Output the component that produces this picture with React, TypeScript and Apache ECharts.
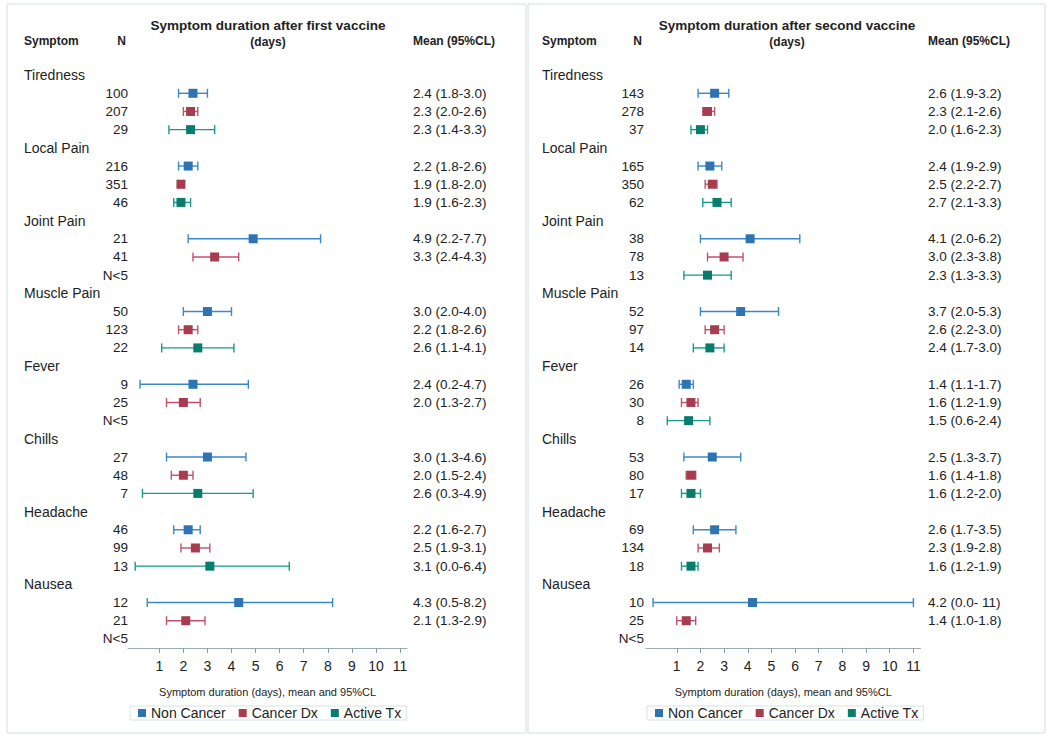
import React, { useEffect, useRef } from 'react';
import * as echarts from 'echarts';

const symptoms = ['Tiredness', 'Local Pain', 'Joint Pain', 'Muscle Pain', 'Fever', 'Chills', 'Headache', 'Nausea'];
const cohorts = ['Non Cancer', 'Cancer Dx', 'Active Tx'];
const panelTitles = ['Symptom duration after first vaccine', 'Symptom duration after second vaccine'];
const xTicks = [1, 2, 3, 4, 5, 6, 7, 8, 9, 10, 11];

// First vaccine
const firstNonCancerN = [100, 216, 21, 50, 9, 27, 46, 12];
const firstNonCancerMean = [2.4, 2.2, 4.9, 3.0, 2.4, 3.0, 2.2, 4.3];
const firstNonCancerLow = [1.8, 1.8, 2.2, 2.0, 0.2, 1.3, 1.6, 0.5];
const firstNonCancerHigh = [3.0, 2.6, 7.7, 4.0, 4.7, 4.6, 2.7, 8.2];

const firstCancerDxN = [207, 351, 41, 123, 25, 48, 99, 21];
const firstCancerDxMean = [2.3, 1.9, 3.3, 2.2, 2.0, 2.0, 2.5, 2.1];
const firstCancerDxLow = [2.0, 1.8, 2.4, 1.8, 1.3, 1.5, 1.9, 1.3];
const firstCancerDxHigh = [2.6, 2.0, 4.3, 2.6, 2.7, 2.4, 3.1, 2.9];

const firstActiveTxN = [29, 46, null, 22, null, 7, 13, null];
const firstActiveTxMean = [2.3, 1.9, null, 2.6, null, 2.6, 3.1, null];
const firstActiveTxLow = [1.4, 1.6, null, 1.1, null, 0.3, 0.0, null];
const firstActiveTxHigh = [3.3, 2.3, null, 4.1, null, 4.9, 6.4, null];

// Second vaccine
const secondNonCancerN = [143, 165, 38, 52, 26, 53, 69, 10];
const secondNonCancerMean = [2.6, 2.4, 4.1, 3.7, 1.4, 2.5, 2.6, 4.2];
const secondNonCancerLow = [1.9, 1.9, 2.0, 2.0, 1.1, 1.3, 1.7, 0.0];
const secondNonCancerHigh = [3.2, 2.9, 6.2, 5.3, 1.7, 3.7, 3.5, 11];

const secondCancerDxN = [278, 350, 78, 97, 30, 80, 134, 25];
const secondCancerDxMean = [2.3, 2.5, 3.0, 2.6, 1.6, 1.6, 2.3, 1.4];
const secondCancerDxLow = [2.1, 2.2, 2.3, 2.2, 1.2, 1.4, 1.9, 1.0];
const secondCancerDxHigh = [2.6, 2.7, 3.8, 3.0, 1.9, 1.8, 2.8, 1.8];

const secondActiveTxN = [37, 62, 13, 14, 8, 17, 18, null];
const secondActiveTxMean = [2.0, 2.7, 2.3, 2.4, 1.5, 1.6, 1.6, null];
const secondActiveTxLow = [1.6, 2.1, 1.3, 1.7, 0.6, 1.2, 1.2, null];
const secondActiveTxHigh = [2.3, 3.3, 3.3, 3.0, 2.4, 2.0, 1.9, null];

const panelData = [
  {
    n: [firstNonCancerN, firstCancerDxN, firstActiveTxN],
    mean: [firstNonCancerMean, firstCancerDxMean, firstActiveTxMean],
    low: [firstNonCancerLow, firstCancerDxLow, firstActiveTxLow],
    high: [firstNonCancerHigh, firstCancerDxHigh, firstActiveTxHigh],
  },
  {
    n: [secondNonCancerN, secondCancerDxN, secondActiveTxN],
    mean: [secondNonCancerMean, secondCancerDxMean, secondActiveTxMean],
    low: [secondNonCancerLow, secondCancerDxLow, secondActiveTxLow],
    high: [secondNonCancerHigh, secondCancerDxHigh, secondActiveTxHigh],
  },
];

// Layout (pixels)
const layouts = [
  { gridLeft: 128, gridWidth: 279.2, nameX: 24, nX: 128, meanX: 413, titleX: 268, boxX: 7, boxW: 519, legendLeft: 130, nHeadX: 121.5 },
  { gridLeft: 646, gridWidth: 274.5, nameX: 542, nX: 644, meanX: 928, titleX: 787, boxX: 528, boxW: 517, legendLeft: 647, nHeadX: 637.5 },
];
const markerColors = ['#2e74b4', '#a63c4d', '#087c6d'];
const lineColors = ['#3b88c8', '#c0526a', '#179a8b'];
const FONT = '"Liberation Sans", Arial, sans-serif';
const ROWS = symptoms.length * 4;

const fmt = (v: number) => (v >= 10 ? ' ' + Math.round(v) : v.toFixed(1));

function buildRows(p: number) {
  const d = panelData[p];
  const rows: any[] = [];
  symptoms.forEach((s, g) => {
    rows.push({ kind: 'name', text: s });
    cohorts.forEach((_, c) => {
      const n = d.n[c][g];
      if (n == null) rows.push({ kind: 'n', text: 'N<5', mean: '' });
      else
        rows.push({
          kind: 'n',
          text: String(n),
          mean: `${d.mean[c][g].toFixed(1)} (${d.low[c][g].toFixed(1)}-${fmt(d.high[c][g])})`,
        });
    });
  });
  return rows;
}

export default function App() {
  const ref = useRef<HTMLDivElement>(null);
  useEffect(() => {
    if (!ref.current) return;
    const chart = echarts.init(ref.current, null, { renderer: 'svg' });
    const grids: any[] = [];
    const xAxes: any[] = [];
    const yAxes: any[] = [];
    const series: any[] = [];
    const graphics: any[] = [];
    const legends: any[] = [];

    layouts.forEach((L, p) => {
      grids.push({ left: L.gridLeft, width: L.gridWidth, top: 66, height: 582 });
      xAxes.push({
        type: 'value',
        gridIndex: p,
        min: -0.3,
        max: 11.3,
        splitLine: { show: false },
        axisLine: { show: true, lineStyle: { color: '#97aeb5', width: 1 } },
        axisTick: { show: true, customValues: xTicks, length: 5, lineStyle: { color: '#8a9aa0' } },
        axisLabel: { customValues: xTicks, margin: 11, fontSize: 14, color: '#222', fontFamily: FONT },
        name: 'Symptom duration (days), mean and 95%CL',
        nameLocation: 'middle',
        nameGap: 38,
        nameTextStyle: { fontSize: 11, color: '#222', fontFamily: FONT },
      });
      yAxes.push({
        type: 'category',
        gridIndex: p,
        inverse: true,
        data: Array.from({ length: ROWS }, (_, i) => String(i)),
        show: false,
      });

      const d = panelData[p];
      cohorts.forEach((name, c) => {
        const data: any[] = [];
        symptoms.forEach((_, g) => {
          if (d.mean[c][g] == null) return;
          data.push([d.low[c][g], d.high[c][g], d.mean[c][g], g * 4 + 1 + c]);
        });
        series.push({
          type: 'custom',
          name,
          xAxisIndex: p,
          yAxisIndex: p,
          color: markerColors[c],
          itemStyle: { color: markerColors[c] },
          encode: { x: [0, 1, 2], y: 3 },
          data,
          renderItem: (params: any, api: any) => {
            const row = api.value(3);
            const lo = api.coord([api.value(0), row]);
            const hi = api.coord([api.value(1), row]);
            const m = api.coord([api.value(2), row]);
            const y = m[1];
            const cap = 4.5;
            const ls = { stroke: lineColors[c], lineWidth: 1.4 };
            return {
              type: 'group',
              children: [
                { type: 'line', shape: { x1: lo[0], y1: y, x2: hi[0], y2: y }, style: ls },
                { type: 'line', shape: { x1: lo[0], y1: y - cap, x2: lo[0], y2: y + cap }, style: ls },
                { type: 'line', shape: { x1: hi[0], y1: y - cap, x2: hi[0], y2: y + cap }, style: ls },
                { type: 'rect', shape: { x: m[0] - 4.5, y: y - 4.5, width: 9, height: 9 }, style: { fill: markerColors[c] } },
              ],
            };
          },
        });
      });

      const rows = buildRows(p);
      series.push({
        type: 'custom',
        name: 'labels' + p,
        xAxisIndex: p,
        yAxisIndex: p,
        silent: true,
        data: rows.map((_, i) => [0, i]),
        renderItem: (params: any, api: any) => {
          const r = rows[params.dataIndex];
          const y = api.coord([0, api.value(1)])[1];
          const base = { fontSize: 13.5, fontFamily: FONT, fill: '#222', verticalAlign: 'middle' };
          if (r.kind === 'name') {
            return { type: 'text', style: { ...base, fontSize: 14, text: r.text, x: L.nameX, y, align: 'left' } };
          }
          return {
            type: 'group',
            children: [
              { type: 'text', style: { ...base, text: r.text, x: L.nX, y, align: 'right' } },
              { type: 'text', style: { ...base, text: r.mean, x: L.meanX, y, align: 'left' } },
            ],
          };
        },
      });

      graphics.push(
        { type: 'rect', shape: { x: L.boxX, y: 4, width: L.boxW, height: 729 }, style: { fill: 'none', stroke: '#cfe2e2', lineWidth: 1 }, silent: true },
        { type: 'text', style: { text: panelTitles[p], x: L.titleX, y: 25, align: 'center', verticalAlign: 'middle', fontSize: 13.5, fontWeight: 'bold', fontFamily: FONT, fill: '#222' } },
        { type: 'text', style: { text: '(days)', x: L.titleX, y: 42, align: 'center', verticalAlign: 'middle', fontSize: 12, fontWeight: 'bold', fontFamily: FONT, fill: '#222' } },
        { type: 'text', style: { text: 'Symptom', x: L.nameX, y: 41, align: 'left', verticalAlign: 'middle', fontSize: 12, fontWeight: 'bold', fontFamily: FONT, fill: '#222' } },
        { type: 'text', style: { text: 'N', x: L.nHeadX, y: 41, align: 'center', verticalAlign: 'middle', fontSize: 12, fontWeight: 'bold', fontFamily: FONT, fill: '#222' } },
        { type: 'text', style: { text: 'Mean (95%CL)', x: L.meanX, y: 41, align: 'left', verticalAlign: 'middle', fontSize: 12, fontWeight: 'bold', fontFamily: FONT, fill: '#222' } }
      );

      legends.push({
        data: cohorts.map((name) => ({ name, icon: 'rect' })),
        left: L.legendLeft,
        top: 706,
        orient: 'horizontal',
        itemWidth: 8,
        itemHeight: 8,
        itemGap: 13,
        padding: [0, 5, 0, 8],
        borderColor: '#d3e4e4',
        borderWidth: 1,
        selectedMode: false,
        textStyle: { fontSize: 14, color: '#222', fontFamily: FONT },
      });
    });

    chart.setOption({
      animation: false,
      backgroundColor: '#ffffff',
      grid: grids,
      xAxis: xAxes,
      yAxis: yAxes,
      series,
      legend: legends,
      graphic: graphics,
    });
    return () => chart.dispose();
  }, []);
  return <div ref={ref} style={{ position: 'fixed', left: 0, top: 0, width: 1050, height: 739 }} />;
}
